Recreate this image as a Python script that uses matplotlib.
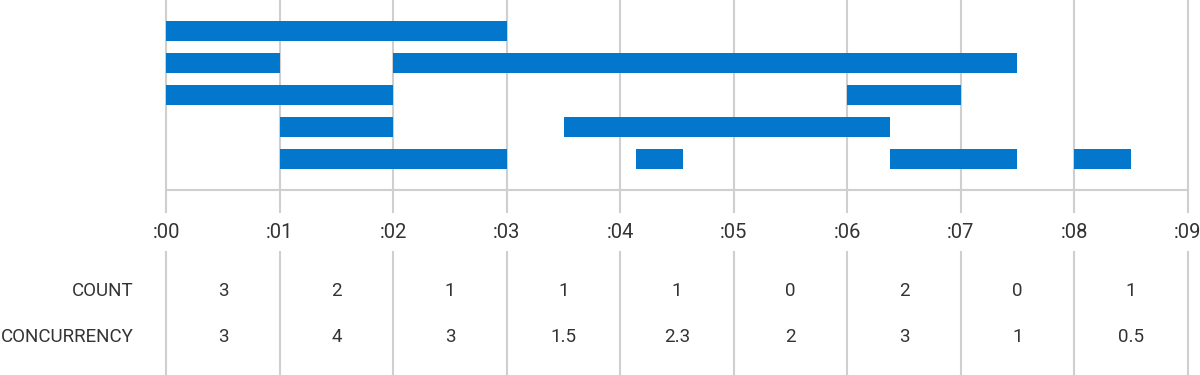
import matplotlib.pyplot as plt

plt.rcParams['font.family'] = ['Roboto', 'DejaVu Sans']

# bar segments per row: (start, end) in seconds
rows = [
    [(0, 3)],
    [(0, 1), (2, 7.5)],
    [(0, 2), (6, 7)],
    [(1, 2), (3.5, 6.38)],
    [(1, 3), (4.14, 4.55), (6.38, 7.5), (8, 8.5)],
]
tick_labels = [':00', ':01', ':02', ':03', ':04', ':05', ':06', ':07', ':08', ':09']
count = ['3', '2', '1', '1', '1', '0', '2', '0', '1']
concurrency = ['3', '4', '3', '1.5', '2.3', '2', '3', '1', '0.5']

blue = '#0277CC'
grid = '#CFCFCF'
text_col = '#333333'

fig = plt.figure(figsize=(12, 3.75), dpi=100)
ax = fig.add_axes([0, 0, 1, 1])
ax.axis('off')

# pixel layout: x=0 at 166.5px, 113.46px per second; rows 32px apart, first centred at 31px
unit = 113.46
ax.set_xlim(-166.5 / unit, (1200 - 166.5) / unit)
ax.set_ylim((375 - 31) / 32, -31 / 32)

base_y = (190 - 31) / 32
tick_y = (233 - 31) / 32
gap_top = (213 - 31) / 32
gap_bot = (251 - 31) / 32
count_y = (291 - 31) / 32
conc_y = (337 - 31) / 32
y_top = -31 / 32
y_bot = (375 - 31) / 32

n = len(tick_labels)
for i in range(n):
    ax.plot([i, i], [y_top, gap_top], color=grid, lw=1.5, zorder=1, solid_capstyle='butt')
    ax.plot([i, i], [gap_bot, y_bot], color=grid, lw=1.5, zorder=1, solid_capstyle='butt')
    ax.text(i, tick_y, tick_labels[i], ha='center', va='center', fontsize=14.5, color=text_col)
ax.plot([0, n - 1], [base_y, base_y], color=grid, lw=1.5, zorder=1, solid_capstyle='butt')

for r, segs in enumerate(rows):
    ax.broken_barh([(s, e - s) for s, e in segs], (r - 0.3125, 0.625),
                   facecolors=blue, edgecolor='none', zorder=2)

for i in range(n - 1):
    ax.text(i + 0.5, count_y, count[i], ha='center', va='center', fontsize=13.5, color=text_col)
    ax.text(i + 0.5, conc_y, concurrency[i], ha='center', va='center', fontsize=13.5, color=text_col)

ax.text(-33 / unit, count_y, 'COUNT', ha='right', va='center', fontsize=13.5, color=text_col)
ax.text(-33 / unit, conc_y, 'CONCURRENCY', ha='right', va='center', fontsize=13.5, color=text_col)

fig.savefig('out.png', dpi=100)
